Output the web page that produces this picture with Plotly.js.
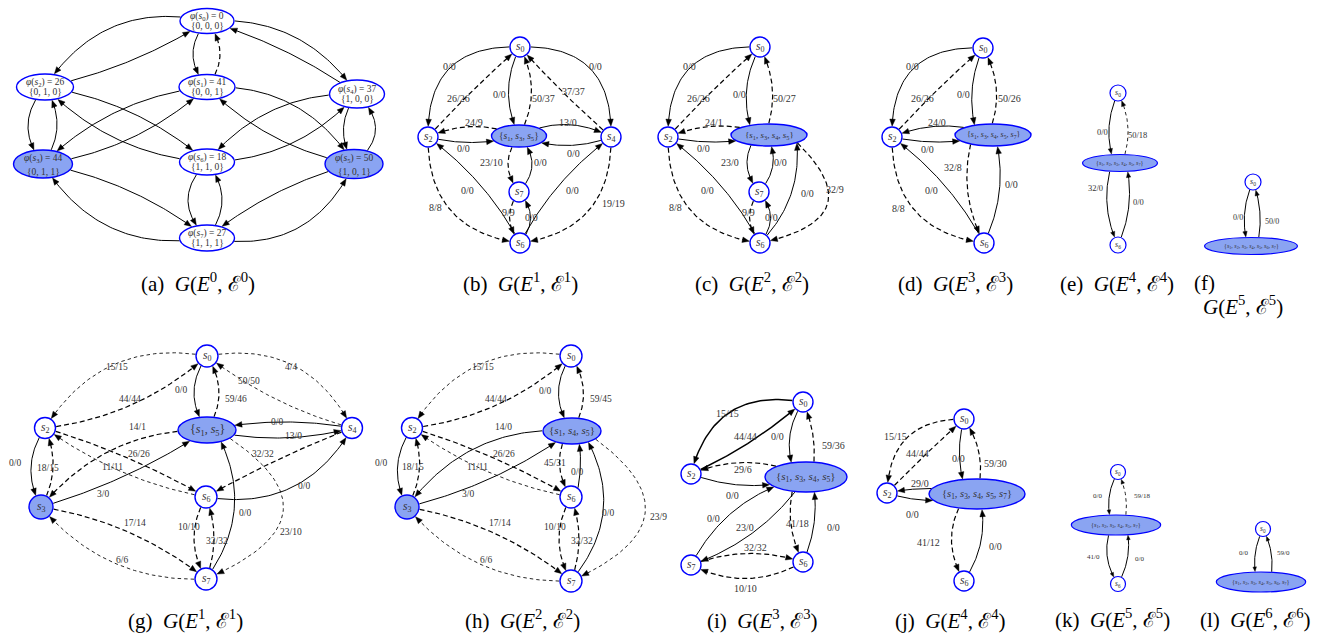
<!DOCTYPE html>
<html><head><meta charset="utf-8">
<script src="https://cdn.plot.ly/plotly-3.0.1.min.js"></script>
<style>html,body{margin:0;padding:0;background:#fff;}#chart{width:1335px;height:637px;}</style>
</head><body><div id="chart"></div>
<script>
// ================= DATA =================
// (a) full state graph: node names, potentials and bit-vectors
const aNodes = ["s0","s1","s2","s3","s4","s5","s6","s7"];
const aPhi   = [0, 41, 26, 44, 37, 50, 18, 27];
const aBits  = ["0, 0, 0","0, 0, 1","0, 1, 0","0, 1, 1","1, 0, 0","1, 0, 1","1, 1, 0","1, 1, 1"];
const aMarked = ["s3","s5"];
const aEdges = [["s0","s2",""],["s2","s0",""],["s0","s4",""],["s4","s0",""],["s0","s1",""],["s1","s0",""],
  ["s2","s3",""],["s3","s2",""],["s2","s6",""],["s6","s2",""],["s1","s3",""],["s3","s1",""],
  ["s1","s5",""],["s5","s1",""],["s4","s6",""],["s6","s4",""],["s4","s5",""],["s5","s4",""],
  ["s3","s7",""],["s7","s3",""],["s6","s7",""],["s7","s6",""],["s5","s7",""],["s7","s5",""]];

// (b)
const bNodes = ["s0","s2","s1,s3,s5","s4","s7","s6"];
const bMarked = ["s1,s3,s5"];
const bEdges = [["s0","s2","0/0"],["s2","s0","26/26"],["s0","s1,s3,s5","0/0"],["s1,s3,s5","s0","50/37"],
  ["s0","s4","0/0"],["s4","s0","37/37"],["s1,s3,s5","s2","24/9"],["s2","s1,s3,s5","0/0"],
  ["s1,s3,s5","s4","13/0"],["s4","s1,s3,s5","0/0"],["s1,s3,s5","s7","23/10"],["s7","s1,s3,s5","0/0"],
  ["s7","s6","9/9"],["s6","s7","0/0"],["s6","s2","0/0"],["s6","s4","0/0"],["s2","s6","8/8"],["s4","s6","19/19"]];

// (c)
const cNodes = ["s0","s2","s1,s3,s4,s5","s7","s6"];
const cMarked = ["s1,s3,s4,s5"];
const cEdges = [["s0","s2","0/0"],["s2","s0","26/26"],["s0","s1,s3,s4,s5","0/0"],["s1,s3,s4,s5","s0","50/27"],
  ["s1,s3,s4,s5","s2","24/1"],["s2","s1,s3,s4,s5","0/0"],["s1,s3,s4,s5","s7","23/0"],["s7","s1,s3,s4,s5","0/0"],
  ["s7","s6","9/9"],["s6","s7","0/0"],["s6","s2","0/0"],["s6","s1,s3,s4,s5","0/0"],["s1,s3,s4,s5","s6","32/9"],["s2","s6","8/8"]];

// (d)
const dNodes = ["s0","s2","s1,s3,s4,s5,s7","s6"];
const dMarked = ["s1,s3,s4,s5,s7"];
const dEdges = [["s0","s2","0/0"],["s2","s0","26/26"],["s0","s1,s3,s4,s5,s7","0/0"],["s1,s3,s4,s5,s7","s0","50/26"],
  ["s1,s3,s4,s5,s7","s2","24/0"],["s2","s1,s3,s4,s5,s7","0/0"],["s1,s3,s4,s5,s7","s6","32/8"],["s6","s1,s3,s4,s5,s7","0/0"],
  ["s6","s2","0/0"],["s2","s6","8/8"]];

// (e)
const eNodes = ["s0","s1,s2,s3,s4,s5,s7","s6"];
const eMarked = ["s1,s2,s3,s4,s5,s7"];
const eEdges = [["s0","s1,s2,s3,s4,s5,s7","0/0"],["s1,s2,s3,s4,s5,s7","s0","50/18"],
  ["s1,s2,s3,s4,s5,s7","s6","32/0"],["s6","s1,s2,s3,s4,s5,s7","0/0"]];

// (f)
const fNodes = ["s0","s1,s2,s3,s4,s5,s6,s7"];
const fMarked = ["s1,s2,s3,s4,s5,s6,s7"];
const fEdges = [["s0","s1,s2,s3,s4,s5,s6,s7","0/0"],["s1,s2,s3,s4,s5,s6,s7","s0","50/0"]];

// (g)
const gNodes = ["s0","s2","s1,s5","s3","s6","s7","s4"];
const gMarked = ["s1,s5","s3"];
const gEdges = [["s0","s2","15/15"],["s2","s0","44/44"],["s0","s1,s5","0/0"],["s1,s5","s0","59/46"],
  ["s0","s4","4/4"],["s4","s0","50/50"],["s4","s1,s5","0/0"],["s1,s5","s4","13/0"],
  ["s1,s5","s3","14/1"],["s3","s1,s5","3/0"],["s2","s3","0/0"],["s3","s2","18/15"],
  ["s2","s6","26/26"],["s6","s2","11/11"],["s4","s6","32/32"],["s6","s4","0/0"],
  ["s3","s7","17/14"],["s7","s3","6/6"],["s6","s7","10/10"],["s7","s6","32/32"],
  ["s7","s1,s5","0/0"],["s1,s5","s7","23/10"]];

// (h)
const hNodes = ["s0","s2","s1,s4,s5","s3","s6","s7"];
const hMarked = ["s1,s4,s5","s3"];
const hEdges = [["s0","s2","15/15"],["s2","s0","44/44"],["s0","s1,s4,s5","0/0"],["s1,s4,s5","s0","59/45"],
  ["s1,s4,s5","s3","14/0"],["s3","s1,s4,s5","3/0"],["s2","s3","0/0"],["s3","s2","18/15"],
  ["s2","s6","26/26"],["s6","s2","11/11"],["s1,s4,s5","s6","45/31"],["s6","s1,s4,s5","0/0"],
  ["s6","s7","10/10"],["s7","s6","32/32"],["s7","s1,s4,s5","0/0"],["s1,s4,s5","s7","23/9"],
  ["s3","s7","17/14"],["s7","s3","6/6"]];

// (i)
const iNodes = ["s0","s2","s1,s3,s4,s5","s7","s6"];
const iMarked = ["s1,s3,s4,s5"];
const iEdges = [["s0","s2","15/15"],["s2","s0","44/44"],["s0","s1,s3,s4,s5","0/0"],["s1,s3,s4,s5","s0","59/36"],
  ["s1,s3,s4,s5","s2","29/6"],["s2","s1,s3,s4,s5","0/0"],["s7","s1,s3,s4,s5","0/0"],["s1,s3,s4,s5","s7","23/0"],
  ["s1,s3,s4,s5","s6","41/18"],["s6","s1,s3,s4,s5","0/0"],["s7","s6","32/32"],["s6","s7","10/10"]];

// (j)
const jNodes = ["s0","s2","s1,s3,s4,s5,s7","s6"];
const jMarked = ["s1,s3,s4,s5,s7"];
const jEdges = [["s0","s2","15/15"],["s2","s0","44/44"],["s0","s1,s3,s4,s5,s7","0/0"],["s1,s3,s4,s5,s7","s0","59/30"],
  ["s1,s3,s4,s5,s7","s2","29/0"],["s2","s1,s3,s4,s5,s7","0/0"],["s1,s3,s4,s5,s7","s6","41/12"],["s6","s1,s3,s4,s5,s7","0/0"]];

// (k)
const kNodes = ["s0","s1,s2,s3,s4,s5,s7","s6"];
const kMarked = ["s1,s2,s3,s4,s5,s7"];
const kEdges = [["s0","s1,s2,s3,s4,s5,s7","0/0"],["s1,s2,s3,s4,s5,s7","s0","59/18"],
  ["s1,s2,s3,s4,s5,s7","s6","41/0"],["s6","s1,s2,s3,s4,s5,s7","0/0"]];

// (l)
const lNodes = ["s0","s1,s2,s3,s4,s5,s6,s7"];
const lMarked = ["s1,s2,s3,s4,s5,s6,s7"];
const lEdges = [["s0","s1,s2,s3,s4,s5,s6,s7","0/0"],["s1,s2,s3,s4,s5,s6,s7","s0","59/0"]];

// captions: sub-figure letters and iteration index
const capLetters = ["a","b","c","d","e","f","g","h","i","j","k","l"];
const capIndex   = [0,1,2,3,4,5,1,2,3,4,5,6];

// ================= LAYOUT / STYLE =================
// node pos: [cx, cy, rx, ry]; edge: [bend, style, labelX, labelY, startDx, endDx]
const LAY = {
 a:{pos:{s0:[207,21,27,12.5],s1:[207,87,28,12.5],s2:[45,87,28.5,13],s3:[43,164,29.5,14],s4:[357,94,27.5,14],s5:[354,164,29,14.5],s6:[207,162,27.5,13],s7:[207,238,27.5,13]},
   edges:[[-30,'S'],[-8,'S'],[24,'S'],[-7,'S'],[-14,'S'],[-13,'D'],[-16,'S'],[-13,'S'],[13,'S'],[17,'S'],[-16,'S'],[-14,'S'],
          [24,'S'],[13,'S'],[-20,'S'],[-18,'S'],[-12,'S'],[-20,'S'],[11,'S'],[30,'S'],[-19,'S'],[-15,'S'],[-9,'S'],[-32,'S']],
   nf:9.5, sf:9.5, lf:10, arrow:[7,2.8], ow:1.4, cap:[198,282]},
 b:{pos:{"s0":[520,47,10,10],"s2":[428,137,10,10],"s1,s3,s5":[519,136,27.5,11],"s4":[611,137,10,10],"s7":[519,192,10,10],"s6":[520,243,10,10]},
   edges:[[-34,'S',449,66],[2,'D',458,98],[-11,'S',499,94],[-12,'D',543,98],[34,'S',595,66],[2,'D',573,91],[-10,'D',474,122],[-6,'S',463,148],
          [12,'S',568,122],[9,'S',573,153],[-11,'D',491,162],[-13,'S',540,162],[-10,'D',508,212],[-11,'S',531,217],[-8,'S',467,190],[8,'S',572,190],
          [-31,'D',435,207],[31,'D',613,203]],
   nf:11.5, sf:9.5, lf:10, arrow:[7,2.8], ow:1.4, cap:[520,282]},
 c:{pos:{"s0":[760,47,10,10],"s2":[668,137,10,10],"s1,s3,s4,s5":[769,135,38,11],"s7":[759,192,10,10],"s6":[760,243,10,10]},
   edges:[[-34,'S',689,66],[2,'D',698,98],[-10,'S',739,94,0,-16],[-10,'D',784,98,-4,0],[-10,'D',714,122],[-6,'S',703,148],
          [-11,'S',730,162,-12,0],[-10,'S',780,162,0,-2],[-10,'D',748,212],[-11,'S',771,217],[-8,'S',707,190],[-14,'S',807,193,0,27],
          [55,'D',835,189,20,0],[-31,'D',675,207]],
   nf:11.5, sf:9, lf:10, arrow:[7,2.8], ow:1.4, cap:[752,282]},
 d:{pos:{"s0":[983,48,10,10],"s2":[892,137,10,10],"s1,s3,s4,s5,s7":[993,135,38,11],"s6":[984,243,10,10]},
   edges:[[-34,'S',912,66],[2,'D',922,98],[-8,'S',963,94,0,-16],[-11,'D',1009,98,-5,0],[-10,'S',937,122],[-6,'S',927,149],
          [-11,'D',953,167,-20,0],[-10,'S',1011,184,0,2],[-8,'S',931,190],[-31,'D',898,208]],
   nf:11.5, sf:8, lf:10, arrow:[7,2.8], ow:1.4, cap:[955,282]},
 e:{pos:{"s0":[1118,93,8,8],"s1,s2,s3,s4,s5,s7":[1120,163,37.5,8.5],"s6":[1118,245,8,8]},
   edges:[[-7,'S',1102,132,0,-6],[-8,'T',1137,135,2,0],[-8,'S',1095,188,-8,0],[-7,'S',1138,202,0,6]],
   nf:8, sf:6, lf:8.5, arrow:[5.5,2.2], ow:1.2, cap:[1117,282]},
 f:{pos:{"s0":[1253,182,8,8],"s1,s2,s3,s4,s5,s6,s7":[1251,246,46.5,8.5]},
   edges:[[-6,'S',1238,217,0,-3],[-5,'S',1272,221,6,0]],
   nf:8, sf:6, lf:8, arrow:[5.5,2.2], ow:1.2, cap:null},
 g:{pos:{"s0":[207,356,11,11],"s2":[45,428,10.5,10.5],"s1,s5":[207,430,29,13],"s3":[41,507,12,12],"s6":[206,497,11,11],"s7":[206,579,11,11],"s4":[352,428,10.5,10.5]},
   edges:[[-30,'T',117,367],[-14,'D',130,399],[-13,'S',181,390],[-12,'D',236,399],[30,'T',291,367],[8,'T',249,381],[-7,'S',277,422],[-9,'S',293,436],
          [-22,'D',137,427],[-7,'S',103,494],[-12,'S',15,463],[-10,'D',48,468],[5,'D',139,454],[10,'T',112,467],[-3,'D',263,454],[-28,'S',304,486],
          [12,'D',135,523],[22,'T',122,560],[-12,'D',189,527],[-8,'D',217,541],[-24,'S',245,513,0,8],[72,'T',291,532,10,0]],
   nf:11.5, sf:12, lf:9.5, arrow:[7,2.8], ow:1.4, cap:[185,619]},
 h:{pos:{"s0":[571,356,11,11],"s2":[412,428,10.5,10.5],"s1,s4,s5":[572,431,29,13],"s3":[407,507,12,12],"s6":[571,497,11,11],"s7":[571,581,11,11]},
   edges:[[-30,'T',483,367],[-14,'D',496,399],[-13,'S',545,391],[-12,'D',601,399],[-25,'S',503,427],[-9,'S',468,494],[-12,'S',381,463],[-10,'D',413,467],
          [5,'D',504,454],[10,'T',477,467],[-10,'D',555,463,-4,0],[-4,'S',577,472,5,5],[-12,'D',555,527],[-8,'D',582,541],[-27,'S',608,513,0,10],
          [68,'T',658,517,12,0],[12,'D',500,523],[22,'T',486,560]],
   nf:11.5, sf:11, lf:9.5, arrow:[7,2.8], ow:1.4, cap:[522,619]},
 i:{pos:{"s0":[803,402,10,10],"s2":[691,474,10,10],"s1,s3,s4,s5":[806,477,41,15],"s7":[691,565,10,10],"s6":[803,562,10,10]},
   edges:[[-31,'B',727,413],[-5,'B',745,436],[-10,'S',777,436,0,-10],[-6,'D',833,445,6,0],[-13,'D',743,469],[-10,'S',732,495],
          [17,'S',713,518],[12,'S',745,527],[-9,'D',797,523,-10,0],[-7,'S',833,527,0,6],[10,'D',755,547],[15,'D',745,588]],
   nf:11.5, sf:11, lf:10, arrow:[7,2.8], ow:1.4, cap:[762,619]},
 j:{pos:{"s0":[964,419,10,10],"s2":[887,493,10,10],"s1,s3,s4,s5,s7":[977,494,48,15],"s6":[964,581,10,10]},
   edges:[[-26,'D',895,436],[1,'D',917,453],[-6,'S',958,458,0,-10],[-9,'D',995,463],[-5,'S',920,483],[-7,'S',912,514],
          [-14,'D',928,542,-10,0],[-10,'S',995,546,0,2]],
   nf:11.5, sf:10.5, lf:10, arrow:[7,2.8], ow:1.4, cap:[950,619]},
 k:{pos:{"s0":[1118,472,7.5,7.5],"s1,s2,s3,s4,s5,s7":[1116,525,44.7,10],"s6":[1118,584,7.5,7.5]},
   edges:[[-6,'S',1097,496,0,-4],[-5,'T',1142,496,8,0],[-8,'S',1093,557,-4,0],[-6,'S',1139,559,0,10]],
   nf:7.5, sf:6.3, lf:7, arrow:[4.5,1.8], ow:1.2, cap:[1112,618]},
 l:{pos:{"s0":[1263,529,7.5,7.5],"s1,s2,s3,s4,s5,s6,s7":[1261,582,44.7,10]},
   edges:[[-5,'S',1243,553,0,-4],[-5,'S',1283,553,9,0]],
   nf:7.5, sf:6.3, lf:7, arrow:[4.5,1.8], ow:1.2, cap:[1255,618]}
};

const GRAPHS = [
 {id:'a',nodes:aNodes,marked:aMarked,edges:aEdges},
 {id:'b',nodes:bNodes,marked:bMarked,edges:bEdges},
 {id:'c',nodes:cNodes,marked:cMarked,edges:cEdges},
 {id:'d',nodes:dNodes,marked:dMarked,edges:dEdges},
 {id:'e',nodes:eNodes,marked:eMarked,edges:eEdges},
 {id:'f',nodes:fNodes,marked:fMarked,edges:fEdges},
 {id:'g',nodes:gNodes,marked:gMarked,edges:gEdges},
 {id:'h',nodes:hNodes,marked:hMarked,edges:hEdges},
 {id:'i',nodes:iNodes,marked:iMarked,edges:iEdges},
 {id:'j',nodes:jNodes,marked:jMarked,edges:jEdges},
 {id:'k',nodes:kNodes,marked:kMarked,edges:kEdges},
 {id:'l',nodes:lNodes,marked:lMarked,edges:lEdges}
];

const STYLES = {
  S:{color:'#000', width:1.0, dash:'solid'},
  B:{color:'#000', width:1.5, dash:'solid'},
  D:{color:'#000', width:1.2, dash:'5px,3px'},
  T:{color:'#000', width:0.85, dash:'3.5px,3px'}
};
const FONT = "Liberation Serif, DejaVu Serif, Times New Roman, serif";
const BLUE = '#0000ff', FILL = '#8aa4f2', TXT = '#333333';
const CAPSIZE = 21;

// ================= BUILD =================
function sLab(n){ return '<i>s</i><sub>' + n.slice(1) + '</sub>'; }
function nodeLabel(id){ return id.includes(',') ? '{' + id.split(',').map(sLab).join(', ') + '}' : sLab(id); }
function bez(A,C,B,t){ const u=1-t; return [u*u*A[0]+2*u*t*C[0]+t*t*B[0], u*u*A[1]+2*u*t*C[1]+t*t*B[1]]; }
function inside(n,p,m){ const dx=(p[0]-n.x)/(n.rx+m), dy=(p[1]-n.y)/(n.ry+m); return dx*dx+dy*dy<1; }

const lineBuf = {S:{x:[],y:[]},B:{x:[],y:[]},D:{x:[],y:[]},T:{x:[],y:[]}};
const arrowBuf = {x:[],y:[]};
const annotations = [];
const shapes = [];
function addText(x,y,t,s,c){
  annotations.push({x:x, y:y, xref:'x', yref:'y', text:t, showarrow:false, xanchor:'center', yanchor:'middle',
    font:{family:FONT, size:s, color:c}, borderpad:0});
}

GRAPHS.forEach(g => {
  const L = LAY[g.id];
  const N = {};
  g.nodes.forEach(id => { const p = L.pos[id]; N[id] = {x:p[0], y:p[1], rx:p[2], ry:p[3]}; });
  g.nodes.forEach(id => {
    const n = N[id], filled = g.marked.includes(id);
    shapes.push({type:'circle', xref:'x', yref:'y', x0:n.x-n.rx, x1:n.x+n.rx, y0:n.y-n.ry, y1:n.y+n.ry,
      line:{color:BLUE, width:L.ow}, fillcolor: filled ? FILL : '#ffffff', layer:'below'});
    if (g.id === 'a') {
      const k = aNodes.indexOf(id);
      const up = filled ? 6 : 4.5, dn = filled ? 8 : 5;
      addText(n.x, n.y-up, '<i>φ</i>(' + sLab(id) + ') = ' + aPhi[k], L.nf, TXT);
      addText(n.x, n.y+dn, '{' + aBits[k] + '}', L.nf, TXT);
    } else {
      addText(n.x, n.y, nodeLabel(id), id.includes(',') ? L.sf : L.nf, TXT);
    }
  });
  g.edges.forEach((e, i) => {
    const [bend, st, lx, ly, sx=0, ex=0] = L.edges[i];
    const P = N[e[0]], Q = N[e[1]];
    const A = [P.x+sx, P.y], B = [Q.x+ex, Q.y];
    const dx = B[0]-A[0], dy = B[1]-A[1], len = Math.hypot(dx,dy);
    const nx = dy/len, ny = -dx/len;
    const C = [(A[0]+B[0])/2 + nx*2*bend, (A[1]+B[1])/2 + ny*2*bend];
    const f = t => bez(A,C,B,t);
    const m = L.ow/2;
    let t0 = 0; while (t0 < 1 && inside(P, f(t0), m)) t0 += 0.001;
    let t1 = 1; while (t1 > 0 && inside(Q, f(t1), m)) t1 -= 0.001;
    const tip = f(t1);
    const al = L.arrow[0], hw = L.arrow[1];
    let tb = t1;
    while (tb > t0) { const p = f(tb); if (Math.hypot(p[0]-tip[0], p[1]-tip[1]) >= al) break; tb -= 0.0005; }
    const base = f(tb);
    const buf = lineBuf[st];
    const ns = 50;
    const tEnd = tb + (t1-tb)*0.3;
    for (let k=0; k<=ns; k++) { const p = f(t0 + (tEnd-t0)*k/ns); buf.x.push(p[0]); buf.y.push(p[1]); }
    buf.x.push(null); buf.y.push(null);
    let ux = tip[0]-base[0], uy = tip[1]-base[1]; const ul = Math.hypot(ux,uy) || 1; ux/=ul; uy/=ul;
    const px = -uy, py = ux;
    arrowBuf.x.push(tip[0], base[0]+px*hw, base[0]-px*hw, tip[0], null);
    arrowBuf.y.push(tip[1], base[1]+py*hw, base[1]-py*hw, tip[1], null);
    if (e[2]) addText(lx, ly, e[2], L.lf, TXT);
  });
  const ci = capLetters.indexOf(g.id), k = capIndex[ci];
  const gpart = '<i>G</i>(<i>E</i><sup>' + k + '</sup>, ℰ<sup>' + k + '</sup>)';
  if (L.cap) addText(L.cap[0], L.cap[1], '(' + g.id + ')\u00a0 ' + gpart, CAPSIZE, '#000');
  else { addText(1204, 283, '(' + g.id + ')', CAPSIZE, '#000'); addText(1243, 305, gpart, CAPSIZE, '#000'); }
});

const traces = [];
Object.keys(lineBuf).forEach(k => {
  const s = STYLES[k];
  traces.push({type:'scatter', mode:'lines', x:lineBuf[k].x, y:lineBuf[k].y, hoverinfo:'skip',
    line:{color:s.color, width:s.width, dash:s.dash}, connectgaps:false});
});
traces.push({type:'scatter', mode:'lines', x:arrowBuf.x, y:arrowBuf.y, fill:'toself', fillcolor:'#000',
  line:{color:'#000', width:0.4}, hoverinfo:'skip', connectgaps:false});

const layout = {
  width:1335, height:637, margin:{l:0,r:0,t:0,b:0}, showlegend:false,
  paper_bgcolor:'#fff', plot_bgcolor:'#fff',
  xaxis:{range:[0,1335], visible:false, fixedrange:true},
  yaxis:{range:[637,0], visible:false, fixedrange:true},
  shapes:shapes, annotations:annotations
};
Plotly.newPlot('chart', traces, layout, {staticPlot:true, displayModeBar:false}).then(gd => {
  // mirror the computed font size onto each text element as an explicit attribute
  gd.querySelectorAll('text').forEach(t => {
    const fs = t.style.fontSize || window.getComputedStyle(t).fontSize;
    if (fs) t.setAttribute('font-size', parseFloat(fs));
  });
});
</script>
</body></html>
